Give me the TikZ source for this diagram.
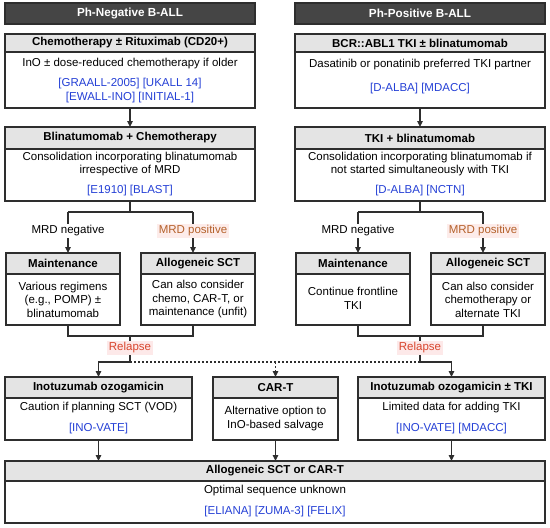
\documentclass[tikz,border=0pt]{standalone}
\usepackage{fontspec}
\setmainfont{Liberation Sans}
\usetikzlibrary{arrows.meta}
\definecolor{hdr}{HTML}{454545}
\definecolor{tbar}{HTML}{E4E4E4}
\definecolor{bord}{HTML}{2E2E2E}
\definecolor{refblue}{HTML}{2540D6}
\definecolor{mrdpos}{HTML}{B5622C}
\definecolor{mrdbg}{HTML}{FDECEA}
\definecolor{relred}{HTML}{D8452D}
\definecolor{relbg}{HTML}{FDE9E9}
\tikzset{
 boxframe/.style={draw=bord, line width=1.2pt, fill=white, inner sep=0pt, outer sep=0pt},
 titlebar/.style={draw=bord, line width=1.2pt, fill=tbar, inner sep=0pt, outer sep=0pt, font=\fontsize{11.5}{13}\selectfont\bfseries},
 hdrbox/.style={draw=bord, line width=1.2pt, fill=hdr, text=white, inner sep=0pt, outer sep=0pt, font=\fontsize{11.7}{13}\selectfont\bfseries},
 bodytxt/.style={align=center, inner sep=0pt, font=\fontsize{11.5}{13.5}\selectfont},
 reftxt/.style={bodytxt, text=refblue},
 conn/.style={draw=bord, line width=1.2pt},
 arr/.style={conn, -{Triangle[length=6pt, width=5.5pt]}},
 dashconn/.style={conn, dash pattern=on 2pt off 2pt},
 dasharr/.style={dashconn, -{Triangle[length=6pt, width=5.5pt]}},
 lblneg/.style={fill=white, inner sep=1.5pt, font=\fontsize{11.5}{13}\selectfont},
 lblpos/.style={fill=mrdbg, text=mrdpos, inner sep=1.5pt, font=\fontsize{11.5}{13}\selectfont},
 lblrel/.style={fill=relbg, text=relred, inner sep=1.5pt, font=\fontsize{11.5}{13}\selectfont},
}
\newcommand\mybox[7]{%
 \pgfmathsetmacro\bw{#4-#2}\pgfmathsetmacro\bh{#5-#3}\pgfmathsetmacro\th{#6-#3}%
 \node[boxframe, minimum width=\bw pt, minimum height=\bh pt, anchor=north west] (#1) at (#2,#3) {};
 \node[titlebar, minimum width=\bw pt, minimum height=\th pt, anchor=north west] (#1-t) at (#2,#3) {#7};
}
\begin{document}
\begin{tikzpicture}[x=1pt,y=-1pt]
\useasboundingbox (0,0) rectangle (550,528);
% headers
\node[hdrbox, minimum width=250pt, minimum height=21pt, anchor=north west] (hdrL) at (5,3) {Ph-Negative B-ALL};
\node[hdrbox, minimum width=250pt, minimum height=21pt, anchor=north west] (hdrR) at (295,3) {Ph-Positive B-ALL};
% boxes
\mybox{B1L}{5}{34}{255}{108}{52}{Chemotherapy ± Rituximab (CD20+)}
\mybox{B1R}{295}{34}{545}{108}{52}{BCR::ABL1 TKI ± blinatumomab}
\mybox{B2L}{5}{127}{255}{201}{149}{Blinatumomab + Chemotherapy}
\mybox{B2R}{295}{127}{545}{201}{149}{TKI + blinatumomab}
\mybox{ML}{6}{253}{120}{325}{274}{Maintenance}
\mybox{AL}{141}{253}{255}{325}{274}{Allogeneic SCT}
\mybox{MR}{296}{253}{410}{325}{274}{Maintenance}
\mybox{AR}{431}{253}{545}{325}{274}{Allogeneic SCT}
\mybox{IL}{5}{377}{192}{440}{398}{Inotuzumab ozogamicin}
\mybox{CT}{213}{377}{338}{440}{398}{CAR-T}
\mybox{IR}{358}{377}{545}{440}{398}{Inotuzumab ozogamicin ± TKI}
\mybox{BOT}{5}{461}{545}{523}{481}{Allogeneic SCT or CAR-T}
% body texts
\node[bodytxt] (t1L) at (130,64) {InO ± dose-reduced chemotherapy if older};
\node[reftxt, font=\fontsize{11.5}{14.5}\selectfont] (r1L) at (130,90.5) {[GRAALL-2005] [UKALL 14]\\{}[EWALL-INO] [INITIAL-1]};
\node[bodytxt] (t1R) at (420,65) {Dasatinib or ponatinib preferred TKI partner};
\node[reftxt] (r1R) at (420,89) {[D-ALBA] [MDACC]};
\node[bodytxt] (t2L) at (130,164) {Consolidation incorporating blinatumomab\\irrespective of MRD};
\node[reftxt] (r2L) at (130,191) {[E1910] [BLAST]};
\node[bodytxt] (t2R) at (420,164) {Consolidation incorporating blinatumomab if\\not started simultaneously with TKI};
\node[reftxt] (r2R) at (420,191) {[D-ALBA] [NCTN]};
\node[bodytxt] (tML) at (63,299.5) {Various regimens\\(e.g., POMP) ±\\blinatumomab};
\node[bodytxt] (tAL) at (198,299.5) {Can also consider\\chemo, CAR-T, or\\maintenance (unfit)};
\node[bodytxt] (tMR) at (353,298.5) {Continue frontline\\TKI};
\node[bodytxt] (tAR) at (488,299.5) {Can also consider\\chemotherapy or\\alternate TKI};
\node[bodytxt] (tIL) at (98.5,407.5) {Caution if planning SCT (VOD)};
\node[reftxt] (rIL) at (98.5,429) {[INO-VATE]};
\node[bodytxt] (tCT) at (275.5,418.5) {Alternative option to\\InO-based salvage};
\node[bodytxt] (tIR) at (451.5,407.5) {Limited data for adding TKI};
\node[reftxt] (rIR) at (451.5,429) {[INO-VATE] [MDACC]};
\node[bodytxt] (tBOT) at (275,491) {Optimal sequence unknown};
\node[reftxt] (rBOT) at (275,512) {[ELIANA] [ZUMA-3] [FELIX]};
% coordinates
\coordinate (bL) at (130,212); \coordinate (bLa) at (68,212); \coordinate (bLb) at (193,212);
\coordinate (bR) at (420,212); \coordinate (bRa) at (358,212); \coordinate (bRb) at (483,212);
\coordinate (rL) at (130,336); \coordinate (rLa) at (68,336); \coordinate (rLb) at (193,336);
\coordinate (rR) at (420,336); \coordinate (rRa) at (358,336); \coordinate (rRb) at (483,336);
\coordinate (hL) at (130,362); \coordinate (hR) at (420,362);
% connectors
\draw[arr] (B1L.south) -- (B2L.north);
\draw[arr] (B1R.south) -- (B2R.north);
\draw[conn] (B2L.south) -- (bL);
\draw[conn] (bLa) -- (bLb);
\draw[arr] (bLa) -- (ML.north -| bLa);
\draw[arr] (bLb) -- (AL.north -| bLb);
\draw[conn] (B2R.south) -- (bR);
\draw[conn] (bRa) -- (bRb);
\draw[arr] (bRa) -- (MR.north -| bRa);
\draw[arr] (bRb) -- (AR.north -| bRb);
\draw[conn] (ML.south -| rLa) -- (rLa) -- (rLb) -- (AL.south -| rLb);
\draw[conn] (MR.south -| rRa) -- (rRa) -- (rRb) -- (AR.south -| rRb);
\draw[conn] (rL) -- (hL);
\draw[conn] (rR) -- (hR);
\draw[arr] (hL) -| (IL.north);
\draw[arr] (hR) -| (IR.north);
\draw[dashconn] (hL) -- (hR);
\draw[dasharr] (hL -| CT.north) -- (CT.north);
\draw[arr] (IL.south) -- (IL.south |- BOT.north);
\draw[arr] (CT.south) -- (CT.south |- BOT.north);
\draw[arr] (IR.south) -- (IR.south |- BOT.north);
% labels
\node[lblneg] (lnL) at (68,231) {MRD negative};
\node[lblpos] (lpL) at (193,231) {MRD positive};
\node[lblneg] (lnR) at (358,231) {MRD negative};
\node[lblpos] (lpR) at (483,231) {MRD positive};
\node[lblrel] (relL) at (130,348) {Relapse};
\node[lblrel] (relR) at (420,348) {Relapse};
\end{tikzpicture}
\end{document}
